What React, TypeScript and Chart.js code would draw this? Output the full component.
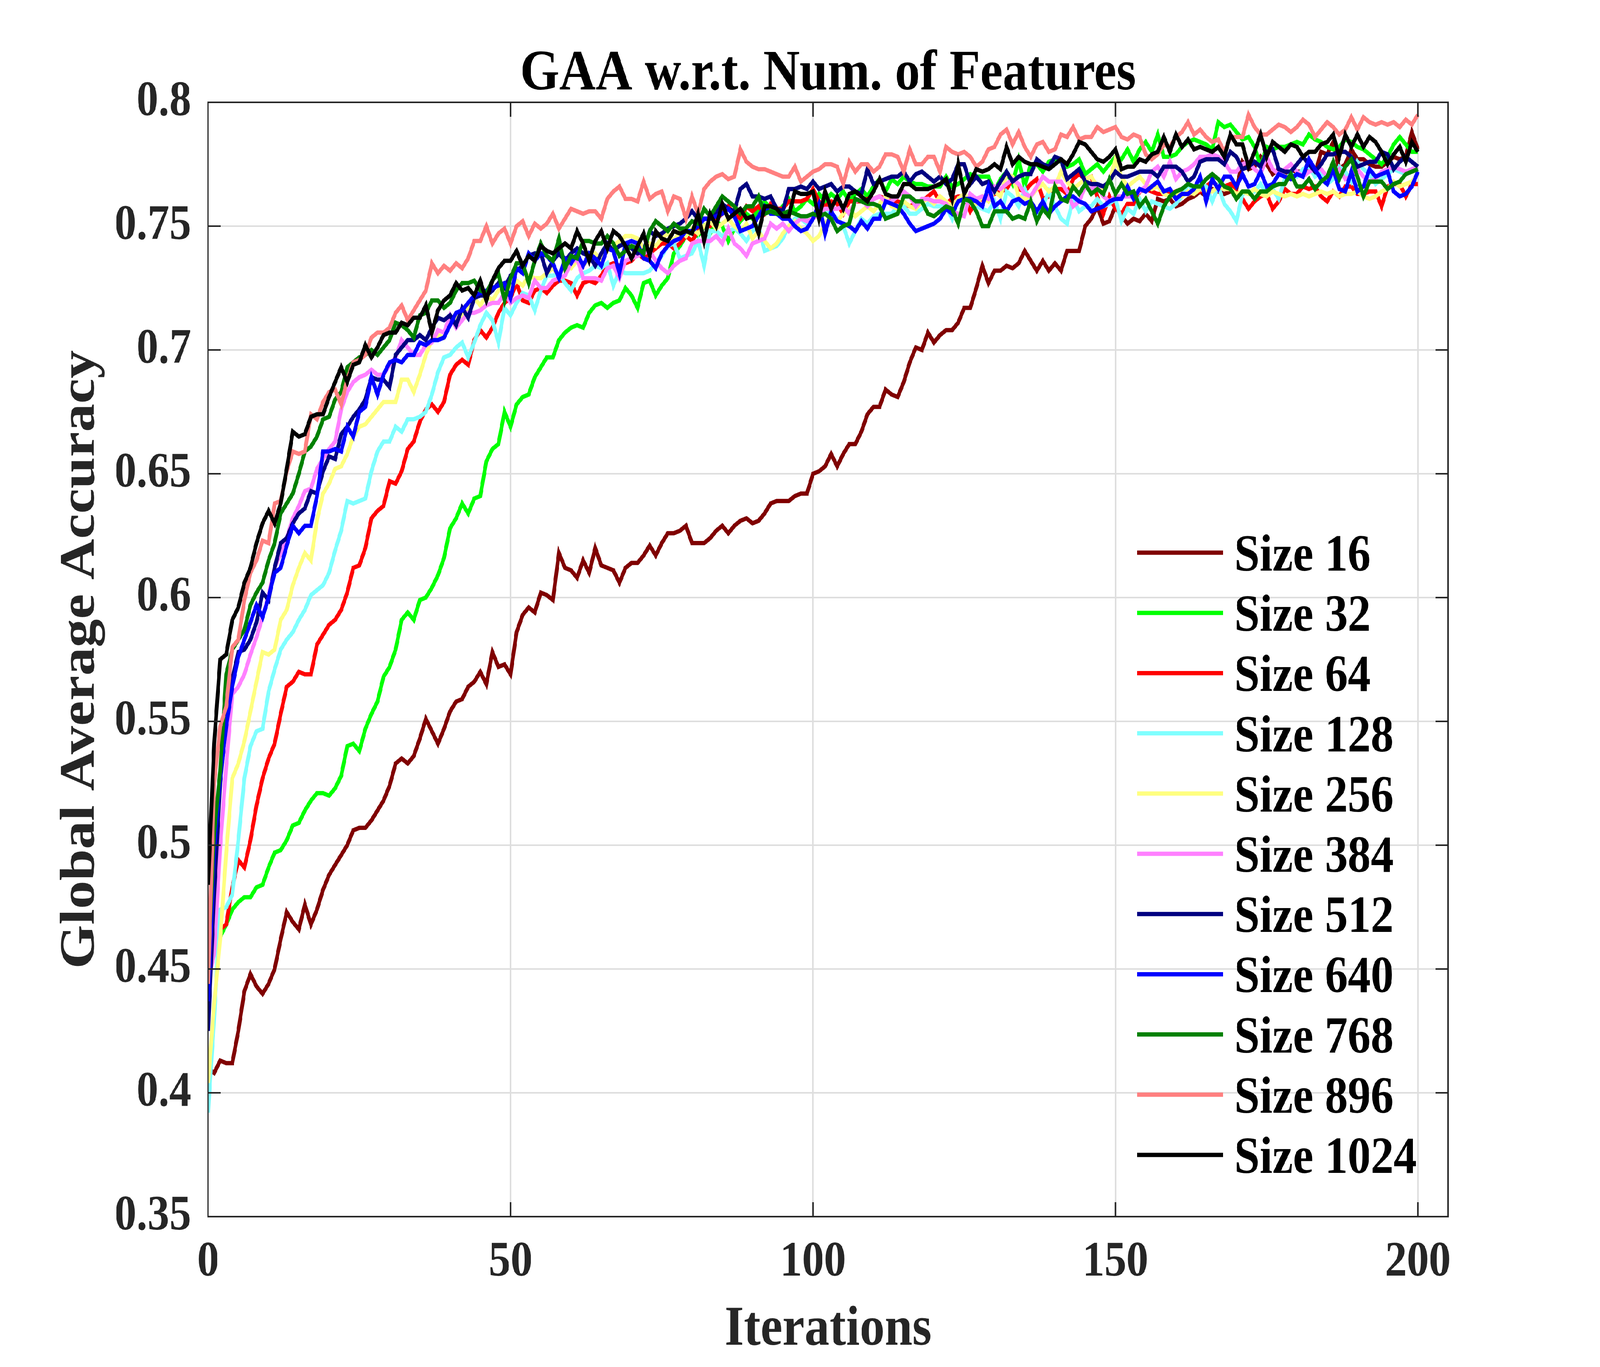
import { useEffect, useRef } from 'react';
import Chart from 'chart.js/auto';

const FONT = '"Liberation Serif", "Times New Roman", serif';
const INK = '#262626';

// reference frame the layout numbers below are measured in
const REF_W = 4667;
const REF_H = 3500;

// iterations 0..200 (one point per iteration)
const iterations = Array.from({ length: 201 }, (_, i) => i);

const seriesNames = ['Size 16', 'Size 32', 'Size 64', 'Size 128', 'Size 256', 'Size 384', 'Size 512', 'Size 640', 'Size 768', 'Size 896', 'Size 1024'];
const seriesColors = ['#800000', '#00ff00', '#ff0000', '#80ffff', '#ffff80', '#ff80ff', '#000080', '#0000ff', '#008000', '#ff8080', '#000000'];

const xTicks = [0, 50, 100, 150, 200];
const yTicks = [0.35, 0.4, 0.45, 0.5, 0.55, 0.6, 0.65, 0.7, 0.75, 0.8];

const size16 = [
    0.410, 0.408, 0.413, 0.412, 0.412, 0.425, 0.441, 0.448, 0.443, 0.440,
    0.444, 0.450, 0.462, 0.473, 0.469, 0.466, 0.476, 0.468, 0.474, 0.482,
    0.488, 0.492, 0.496, 0.500, 0.506, 0.507, 0.507, 0.510, 0.514, 0.518,
    0.524, 0.533, 0.535, 0.533, 0.536, 0.543, 0.551, 0.546, 0.541, 0.547,
    0.554, 0.558, 0.559, 0.564, 0.566, 0.570, 0.565, 0.578, 0.572, 0.573,
    0.569, 0.586, 0.593, 0.596, 0.594, 0.602, 0.601, 0.599, 0.618, 0.612,
    0.611, 0.608, 0.615, 0.610, 0.620, 0.613, 0.612, 0.611, 0.606, 0.612,
    0.614, 0.614, 0.617, 0.621, 0.617, 0.622, 0.626, 0.626, 0.627, 0.629,
    0.622, 0.622, 0.622, 0.624, 0.627, 0.629, 0.626, 0.629, 0.631, 0.632,
    0.630, 0.631, 0.634, 0.638, 0.639, 0.639, 0.639, 0.641, 0.642, 0.642,
    0.650, 0.651, 0.653, 0.658, 0.653, 0.658, 0.662, 0.662, 0.667, 0.674,
    0.677, 0.677, 0.684, 0.682, 0.681, 0.687, 0.695, 0.701, 0.700, 0.707,
    0.703, 0.706, 0.708, 0.708, 0.711, 0.717, 0.717, 0.725, 0.734, 0.727,
    0.732, 0.732, 0.734, 0.733, 0.735, 0.740, 0.736, 0.732, 0.736, 0.732,
    0.735, 0.732, 0.740, 0.740, 0.740, 0.750, 0.753, 0.758, 0.751, 0.752,
    0.758, 0.754, 0.751, 0.753, 0.752, 0.755, 0.752, 0.761, 0.760, 0.761,
    0.758, 0.759, 0.761, 0.762, 0.764, 0.762, 0.765, 0.764, 0.763, 0.764,
    0.765, 0.776, 0.773, 0.774, 0.778, 0.775, 0.771, 0.773, 0.772, 0.771,
    0.772, 0.772, 0.773, 0.771, 0.780, 0.779, 0.784, 0.773, 0.775, 0.781,
    0.777, 0.777, 0.775, 0.774, 0.774, 0.776, 0.778, 0.777, 0.778, 0.788,
    0.781,
];

const size32 = [
    0.451, 0.461, 0.463, 0.468, 0.474, 0.477, 0.479, 0.479, 0.483, 0.484,
    0.491, 0.497, 0.498, 0.502, 0.508, 0.509, 0.514, 0.518, 0.521, 0.521,
    0.520, 0.523, 0.528, 0.540, 0.541, 0.538, 0.547, 0.553, 0.558, 0.568,
    0.572, 0.579, 0.591, 0.594, 0.591, 0.599, 0.600, 0.604, 0.609, 0.616,
    0.628, 0.632, 0.638, 0.634, 0.640, 0.641, 0.655, 0.660, 0.662, 0.675,
    0.669, 0.678, 0.681, 0.682, 0.689, 0.693, 0.697, 0.697, 0.704, 0.707,
    0.709, 0.710, 0.709, 0.715, 0.718, 0.719, 0.717, 0.719, 0.720, 0.725,
    0.722, 0.717, 0.727, 0.728, 0.722, 0.726, 0.729, 0.739, 0.742, 0.746,
    0.748, 0.746, 0.750, 0.747, 0.752, 0.750, 0.744, 0.749, 0.752, 0.755,
    0.753, 0.757, 0.760, 0.757, 0.755, 0.758, 0.761, 0.756, 0.758, 0.761,
    0.759, 0.763, 0.760, 0.763, 0.761, 0.764, 0.760, 0.763, 0.765, 0.762,
    0.766, 0.769, 0.764, 0.769, 0.767, 0.770, 0.768, 0.767, 0.767, 0.766,
    0.766, 0.766, 0.770, 0.766, 0.767, 0.769, 0.771, 0.770, 0.770, 0.770,
    0.764, 0.769, 0.772, 0.767, 0.777, 0.766, 0.775, 0.775, 0.772, 0.776,
    0.777, 0.776, 0.774, 0.775, 0.777, 0.771, 0.773, 0.775, 0.772, 0.775,
    0.778, 0.777, 0.781, 0.776, 0.781, 0.784, 0.780, 0.787, 0.778, 0.778,
    0.779, 0.782, 0.784, 0.785, 0.784, 0.783, 0.781, 0.792, 0.790, 0.791,
    0.788, 0.785, 0.786, 0.782, 0.774, 0.782, 0.781, 0.782, 0.782, 0.783,
    0.784, 0.783, 0.787, 0.785, 0.784, 0.782, 0.781, 0.782, 0.785, 0.784,
    0.782, 0.781, 0.779, 0.777, 0.775, 0.778, 0.783, 0.786, 0.783, 0.780,
    0.780,
];

const size64 = [
    0.447, 0.462, 0.466, 0.468, 0.483, 0.494, 0.491, 0.502, 0.516, 0.527,
    0.535, 0.541, 0.553, 0.564, 0.566, 0.570, 0.569, 0.569, 0.581, 0.585,
    0.589, 0.591, 0.595, 0.602, 0.612, 0.613, 0.620, 0.632, 0.635, 0.637,
    0.647, 0.646, 0.651, 0.660, 0.663, 0.671, 0.676, 0.678, 0.675, 0.679,
    0.690, 0.694, 0.696, 0.694, 0.704, 0.708, 0.705, 0.709, 0.715, 0.719,
    0.721, 0.727, 0.720, 0.719, 0.724, 0.725, 0.723, 0.726, 0.728, 0.728,
    0.727, 0.722, 0.727, 0.728, 0.727, 0.730, 0.734, 0.735, 0.734, 0.735,
    0.736, 0.739, 0.737, 0.739, 0.741, 0.743, 0.743, 0.741, 0.743, 0.746,
    0.744, 0.748, 0.750, 0.750, 0.753, 0.755, 0.758, 0.755, 0.753, 0.758,
    0.756, 0.758, 0.755, 0.759, 0.757, 0.757, 0.760, 0.760, 0.760, 0.761,
    0.765, 0.760, 0.758, 0.760, 0.759, 0.755, 0.760, 0.760, 0.760, 0.761,
    0.761, 0.762, 0.761, 0.760, 0.760, 0.759, 0.758, 0.759, 0.760, 0.762,
    0.764, 0.760, 0.759, 0.761, 0.762, 0.762, 0.756, 0.760, 0.761, 0.762,
    0.763, 0.764, 0.765, 0.769, 0.765, 0.764, 0.767, 0.769, 0.761, 0.762,
    0.765, 0.765, 0.763, 0.769, 0.771, 0.769, 0.770, 0.762, 0.755, 0.762,
    0.757, 0.755, 0.759, 0.759, 0.764, 0.765, 0.764, 0.763, 0.763, 0.763,
    0.764, 0.765, 0.763, 0.764, 0.764, 0.766, 0.768, 0.766, 0.766, 0.767,
    0.764, 0.761, 0.757, 0.760, 0.762, 0.763, 0.757, 0.760, 0.765, 0.763,
    0.763, 0.766, 0.765, 0.766, 0.762, 0.760, 0.764, 0.762, 0.766, 0.766,
    0.763, 0.763, 0.764, 0.764, 0.758, 0.766, 0.767, 0.767, 0.762, 0.767,
    0.767,
];

const size128 = [
    0.392, 0.430, 0.474, 0.475, 0.480, 0.502, 0.527, 0.540, 0.546, 0.547,
    0.562, 0.571, 0.579, 0.583, 0.586, 0.591, 0.595, 0.601, 0.603, 0.605,
    0.610, 0.619, 0.627, 0.639, 0.638, 0.639, 0.640, 0.651, 0.659, 0.663,
    0.663, 0.669, 0.667, 0.672, 0.672, 0.673, 0.675, 0.682, 0.691, 0.697,
    0.698, 0.701, 0.703, 0.697, 0.703, 0.710, 0.715, 0.712, 0.703, 0.717,
    0.714, 0.719, 0.723, 0.722, 0.716, 0.724, 0.730, 0.730, 0.731, 0.727,
    0.724, 0.729, 0.731, 0.732, 0.734, 0.733, 0.735, 0.726, 0.732, 0.731,
    0.731, 0.731, 0.731, 0.732, 0.735, 0.738, 0.742, 0.743, 0.737, 0.738,
    0.739, 0.744, 0.734, 0.748, 0.748, 0.746, 0.748, 0.749, 0.747, 0.744,
    0.748, 0.750, 0.740, 0.741, 0.742, 0.745, 0.750, 0.753, 0.753, 0.751,
    0.753, 0.757, 0.756, 0.755, 0.753, 0.750, 0.743, 0.748, 0.753, 0.751,
    0.754, 0.755, 0.755, 0.755, 0.758, 0.758, 0.755, 0.755, 0.757, 0.759,
    0.758, 0.758, 0.758, 0.753, 0.761, 0.760, 0.761, 0.758, 0.757, 0.756,
    0.760, 0.753, 0.764, 0.762, 0.758, 0.765, 0.760, 0.754, 0.758, 0.764,
    0.758, 0.753, 0.751, 0.761, 0.756, 0.758, 0.758, 0.761, 0.758, 0.759,
    0.761, 0.752, 0.757, 0.755, 0.761, 0.756, 0.760, 0.759, 0.758, 0.757,
    0.759, 0.762, 0.767, 0.764, 0.767, 0.766, 0.760, 0.766, 0.759, 0.756,
    0.752, 0.763, 0.764, 0.764, 0.767, 0.763, 0.765, 0.761, 0.769, 0.771,
    0.770, 0.773, 0.774, 0.770, 0.772, 0.767, 0.769, 0.774, 0.772, 0.768,
    0.776, 0.773, 0.771, 0.767, 0.769, 0.771, 0.773, 0.772, 0.771, 0.773,
    0.774,
];

const size256 = [
    0.404, 0.436, 0.462, 0.497, 0.527, 0.533, 0.542, 0.554, 0.566, 0.578,
    0.577, 0.579, 0.591, 0.595, 0.605, 0.612, 0.618, 0.615, 0.631, 0.642,
    0.646, 0.652, 0.653, 0.658, 0.665, 0.669, 0.670, 0.673, 0.676, 0.679,
    0.679, 0.679, 0.688, 0.688, 0.683, 0.690, 0.698, 0.704, 0.706, 0.705,
    0.711, 0.713, 0.714, 0.717, 0.721, 0.718, 0.722, 0.720, 0.724, 0.727,
    0.725, 0.728, 0.726, 0.730, 0.729, 0.729, 0.731, 0.733, 0.730, 0.734,
    0.733, 0.736, 0.734, 0.737, 0.739, 0.736, 0.740, 0.742, 0.744, 0.746,
    0.746, 0.745, 0.741, 0.743, 0.742, 0.745, 0.747, 0.744, 0.748, 0.746,
    0.749, 0.747, 0.750, 0.752, 0.749, 0.751, 0.753, 0.750, 0.748, 0.751,
    0.745, 0.748, 0.744, 0.741, 0.743, 0.747, 0.750, 0.752, 0.749, 0.747,
    0.744, 0.746, 0.751, 0.754, 0.752, 0.755, 0.757, 0.754, 0.756, 0.758,
    0.756, 0.759, 0.762, 0.758, 0.757, 0.760, 0.758, 0.757, 0.760, 0.761,
    0.759, 0.762, 0.760, 0.758, 0.761, 0.763, 0.760, 0.759, 0.762, 0.760,
    0.764, 0.762, 0.771, 0.770, 0.762, 0.761, 0.762, 0.765, 0.767, 0.764,
    0.766, 0.772, 0.768, 0.765, 0.767, 0.769, 0.770, 0.766, 0.764, 0.768,
    0.777, 0.770, 0.766, 0.768, 0.770, 0.767, 0.765, 0.766, 0.763, 0.762,
    0.763, 0.762, 0.764, 0.763, 0.765, 0.764, 0.764, 0.766, 0.765, 0.765,
    0.763, 0.764, 0.763, 0.765, 0.763, 0.762, 0.764, 0.763, 0.762, 0.763,
    0.762, 0.763, 0.762, 0.763, 0.764, 0.763, 0.764, 0.762, 0.763, 0.763,
    0.764, 0.762, 0.761, 0.762, 0.764, 0.765, 0.768, 0.766, 0.767, 0.768,
    0.771,
];

const size384 = [
    0.445, 0.456, 0.499, 0.532, 0.561, 0.564, 0.569, 0.577, 0.584, 0.592,
    0.601, 0.612, 0.618, 0.624, 0.632, 0.637, 0.643, 0.644, 0.652, 0.656,
    0.660, 0.663, 0.676, 0.683, 0.687, 0.689, 0.690, 0.692, 0.690, 0.690,
    0.694, 0.697, 0.704, 0.701, 0.698, 0.698, 0.702, 0.703, 0.708, 0.707,
    0.714, 0.709, 0.712, 0.715, 0.715, 0.716, 0.718, 0.719, 0.719, 0.723,
    0.719, 0.721, 0.722, 0.721, 0.728, 0.725, 0.725, 0.728, 0.729, 0.730,
    0.735, 0.737, 0.729, 0.729, 0.729, 0.728, 0.733, 0.734, 0.729, 0.736,
    0.737, 0.738, 0.739, 0.740, 0.736, 0.733, 0.731, 0.734, 0.736, 0.737,
    0.743, 0.744, 0.744, 0.744, 0.746, 0.743, 0.749, 0.743, 0.741, 0.738,
    0.743, 0.744, 0.745, 0.751, 0.749, 0.751, 0.748, 0.751, 0.753, 0.752,
    0.753, 0.755, 0.757, 0.757, 0.757, 0.758, 0.755, 0.760, 0.761, 0.758,
    0.761, 0.762, 0.760, 0.760, 0.762, 0.764, 0.762, 0.758, 0.761, 0.761,
    0.760, 0.760, 0.759, 0.756, 0.755, 0.754, 0.763, 0.761, 0.762, 0.761,
    0.766, 0.765, 0.767, 0.769, 0.767, 0.763, 0.762, 0.766, 0.770, 0.768,
    0.768, 0.768, 0.764, 0.758, 0.760, 0.766, 0.765, 0.766, 0.762, 0.760,
    0.762, 0.762, 0.762, 0.762, 0.764, 0.766, 0.772, 0.774, 0.770, 0.776,
    0.769, 0.772, 0.773, 0.775, 0.778, 0.778, 0.779, 0.778, 0.776, 0.772,
    0.772, 0.775, 0.776, 0.773, 0.771, 0.778, 0.773, 0.771, 0.773, 0.775,
    0.772, 0.770, 0.772, 0.773, 0.773, 0.770, 0.771, 0.773, 0.769, 0.770,
    0.773, 0.770, 0.768, 0.769, 0.772, 0.773, 0.774, 0.773, 0.772, 0.773,
    0.774,
];

const size512 = [
    0.425, 0.480, 0.525, 0.550, 0.567, 0.578, 0.579, 0.583, 0.590, 0.602,
    0.599, 0.612, 0.622, 0.624, 0.630, 0.634, 0.636, 0.643, 0.642, 0.651,
    0.657, 0.656, 0.666, 0.669, 0.673, 0.676, 0.680, 0.689, 0.688, 0.688,
    0.685, 0.698, 0.701, 0.704, 0.704, 0.706, 0.704, 0.709, 0.713, 0.712,
    0.714, 0.710, 0.717, 0.713, 0.721, 0.722, 0.722, 0.724, 0.727, 0.725,
    0.730, 0.732, 0.734, 0.738, 0.739, 0.739, 0.731, 0.736, 0.739, 0.736,
    0.739, 0.741, 0.739, 0.738, 0.734, 0.739, 0.743, 0.740, 0.742, 0.743,
    0.741, 0.739, 0.740, 0.748, 0.746, 0.747, 0.749, 0.750, 0.751, 0.753,
    0.756, 0.753, 0.753, 0.753, 0.755, 0.759, 0.757, 0.756, 0.765, 0.767,
    0.762, 0.762, 0.761, 0.762, 0.757, 0.756, 0.765, 0.765, 0.766, 0.765,
    0.768, 0.765, 0.766, 0.767, 0.764, 0.766, 0.766, 0.764, 0.763, 0.773,
    0.767, 0.768, 0.769, 0.770, 0.770, 0.772, 0.768, 0.771, 0.772, 0.770,
    0.768, 0.770, 0.767, 0.769, 0.775, 0.775, 0.767, 0.770, 0.767, 0.768,
    0.764, 0.768, 0.772, 0.768, 0.770, 0.771, 0.771, 0.777, 0.775, 0.774,
    0.778, 0.777, 0.769, 0.771, 0.773, 0.768, 0.767, 0.767, 0.766, 0.768,
    0.772, 0.770, 0.770, 0.771, 0.772, 0.772, 0.772, 0.770, 0.774, 0.774,
    0.774, 0.772, 0.768, 0.770, 0.776, 0.777, 0.777, 0.777, 0.775, 0.780,
    0.778, 0.773, 0.774, 0.776, 0.774, 0.780, 0.781, 0.773, 0.772, 0.772,
    0.775, 0.778, 0.775, 0.772, 0.775, 0.779, 0.779, 0.780, 0.780, 0.778,
    0.774, 0.775, 0.776, 0.776, 0.780, 0.779, 0.773, 0.776, 0.778, 0.776,
    0.774,
];

const size640 = [
    0.437, 0.499, 0.527, 0.548, 0.564, 0.576, 0.583, 0.590, 0.597, 0.592,
    0.600, 0.610, 0.612, 0.621, 0.629, 0.626, 0.629, 0.629, 0.641, 0.659,
    0.659, 0.660, 0.659, 0.669, 0.665, 0.675, 0.677, 0.689, 0.682, 0.690,
    0.695, 0.696, 0.695, 0.698, 0.698, 0.703, 0.702, 0.704, 0.704, 0.705,
    0.710, 0.715, 0.716, 0.719, 0.722, 0.723, 0.724, 0.725, 0.726, 0.727,
    0.721, 0.733, 0.731, 0.739, 0.736, 0.739, 0.738, 0.735, 0.729, 0.737,
    0.735, 0.739, 0.734, 0.739, 0.737, 0.734, 0.741, 0.740, 0.731, 0.743,
    0.744, 0.743, 0.737, 0.736, 0.733, 0.739, 0.742, 0.744, 0.745, 0.748,
    0.748, 0.750, 0.753, 0.753, 0.754, 0.755, 0.757, 0.754, 0.748, 0.749,
    0.750, 0.754, 0.758, 0.755, 0.755, 0.753, 0.753, 0.750, 0.748, 0.749,
    0.753, 0.759, 0.747, 0.756, 0.752, 0.751, 0.750, 0.748, 0.752, 0.749,
    0.753, 0.753, 0.760, 0.759, 0.758, 0.755, 0.751, 0.748, 0.749, 0.750,
    0.751, 0.753, 0.757, 0.755, 0.760, 0.761, 0.761, 0.760, 0.758, 0.766,
    0.758, 0.760, 0.756, 0.760, 0.761, 0.759, 0.760, 0.756, 0.760, 0.755,
    0.758, 0.760, 0.762, 0.762, 0.760, 0.759, 0.756, 0.757, 0.758, 0.760,
    0.761, 0.761, 0.766, 0.761, 0.765, 0.764, 0.766, 0.768, 0.764, 0.765,
    0.761, 0.763, 0.763, 0.765, 0.770, 0.760, 0.769, 0.765, 0.770, 0.770,
    0.766, 0.771, 0.766, 0.767, 0.772, 0.766, 0.767, 0.771, 0.770, 0.769,
    0.771, 0.770, 0.777, 0.773, 0.769, 0.767, 0.773, 0.765, 0.764, 0.772,
    0.764, 0.766, 0.773, 0.770, 0.771, 0.772, 0.764, 0.762, 0.763, 0.766,
    0.772,
];

const size768 = [
    0.450, 0.505, 0.530, 0.569, 0.579, 0.583, 0.587, 0.597, 0.602, 0.606,
    0.615, 0.622, 0.634, 0.638, 0.642, 0.650, 0.659, 0.661, 0.665, 0.672,
    0.673, 0.680, 0.683, 0.693, 0.695, 0.697, 0.698, 0.700, 0.698, 0.701,
    0.704, 0.711, 0.710, 0.708, 0.705, 0.714, 0.715, 0.720, 0.720, 0.717,
    0.719, 0.724, 0.727, 0.727, 0.728, 0.724, 0.723, 0.728, 0.731, 0.720,
    0.729, 0.735, 0.735, 0.727, 0.736, 0.743, 0.738, 0.736, 0.745, 0.733,
    0.738, 0.737, 0.744, 0.744, 0.743, 0.743, 0.746, 0.743, 0.738, 0.740,
    0.742, 0.741, 0.739, 0.748, 0.752, 0.750, 0.748, 0.751, 0.749, 0.749,
    0.752, 0.751, 0.757, 0.754, 0.758, 0.762, 0.760, 0.758, 0.755, 0.758,
    0.758, 0.762, 0.755, 0.756, 0.755, 0.755, 0.756, 0.755, 0.754, 0.754,
    0.755, 0.754, 0.755, 0.753, 0.748, 0.750, 0.751, 0.761, 0.760, 0.759,
    0.759, 0.758, 0.753, 0.754, 0.755, 0.762, 0.762, 0.760, 0.760, 0.755,
    0.754, 0.756, 0.758, 0.757, 0.751, 0.761, 0.760, 0.756, 0.750, 0.750,
    0.756, 0.756, 0.756, 0.753, 0.754, 0.753, 0.760, 0.752, 0.757, 0.754,
    0.766, 0.761, 0.760, 0.766, 0.763, 0.767, 0.763, 0.765, 0.763, 0.769,
    0.763, 0.767, 0.763, 0.764, 0.758, 0.761, 0.756, 0.751, 0.758, 0.762,
    0.764, 0.765, 0.767, 0.766, 0.766, 0.769, 0.771, 0.769, 0.766, 0.765,
    0.761, 0.764, 0.764, 0.761, 0.764, 0.764, 0.766, 0.767, 0.767, 0.771,
    0.766, 0.766, 0.769, 0.765, 0.768, 0.770, 0.776, 0.769, 0.774, 0.777,
    0.770, 0.762, 0.768, 0.768, 0.768, 0.765, 0.767, 0.768, 0.771, 0.772,
    0.773,
];

const size896 = [
    0.444, 0.525, 0.548, 0.556, 0.580, 0.583, 0.599, 0.610, 0.615, 0.623,
    0.622, 0.638, 0.639, 0.651, 0.659, 0.658, 0.659, 0.674, 0.672, 0.679,
    0.683, 0.684, 0.678, 0.688, 0.695, 0.696, 0.698, 0.705, 0.707, 0.707,
    0.709, 0.715, 0.718, 0.712, 0.716, 0.720, 0.724, 0.735, 0.731, 0.734,
    0.732, 0.735, 0.733, 0.737, 0.744, 0.744, 0.750, 0.743, 0.747, 0.749,
    0.743, 0.750, 0.752, 0.746, 0.751, 0.749, 0.751, 0.755, 0.749, 0.753,
    0.757, 0.756, 0.755, 0.756, 0.756, 0.753, 0.761, 0.764, 0.766, 0.761,
    0.761, 0.760, 0.768, 0.761, 0.763, 0.764, 0.756, 0.762, 0.761, 0.753,
    0.762, 0.755, 0.765, 0.768, 0.770, 0.771, 0.769, 0.770, 0.781, 0.776,
    0.774, 0.773, 0.773, 0.772, 0.771, 0.770, 0.770, 0.774, 0.768, 0.770,
    0.772, 0.773, 0.775, 0.775, 0.774, 0.767, 0.776, 0.772, 0.775, 0.775,
    0.772, 0.774, 0.779, 0.779, 0.778, 0.772, 0.781, 0.775, 0.775, 0.778,
    0.778, 0.772, 0.782, 0.780, 0.779, 0.780, 0.778, 0.774, 0.776, 0.781,
    0.782, 0.787, 0.789, 0.783, 0.788, 0.782, 0.778, 0.783, 0.784, 0.780,
    0.781, 0.787, 0.786, 0.790, 0.785, 0.786, 0.786, 0.790, 0.788, 0.789,
    0.790, 0.786, 0.785, 0.787, 0.786, 0.779, 0.777, 0.779, 0.783, 0.782,
    0.786, 0.788, 0.792, 0.787, 0.789, 0.786, 0.784, 0.785, 0.780, 0.786,
    0.786, 0.786, 0.795, 0.790, 0.787, 0.787, 0.789, 0.791, 0.790, 0.788,
    0.790, 0.793, 0.791, 0.786, 0.789, 0.792, 0.790, 0.787, 0.789, 0.794,
    0.789, 0.794, 0.792, 0.791, 0.792, 0.791, 0.792, 0.790, 0.793, 0.791,
    0.795,
];

const size1024 = [
    0.484, 0.541, 0.575, 0.577, 0.591, 0.596, 0.606, 0.612, 0.622, 0.630,
    0.635, 0.630, 0.638, 0.652, 0.667, 0.665, 0.666, 0.673, 0.674, 0.674,
    0.681, 0.687, 0.693, 0.687, 0.694, 0.695, 0.702, 0.697, 0.701, 0.706,
    0.707, 0.707, 0.711, 0.710, 0.713, 0.713, 0.718, 0.707, 0.716, 0.720,
    0.722, 0.727, 0.724, 0.725, 0.722, 0.728, 0.720, 0.728, 0.733, 0.736,
    0.736, 0.740, 0.734, 0.738, 0.736, 0.742, 0.740, 0.739, 0.741, 0.743,
    0.741, 0.748, 0.743, 0.736, 0.744, 0.748, 0.741, 0.748, 0.746, 0.742,
    0.737, 0.742, 0.747, 0.738, 0.748, 0.745, 0.744, 0.748, 0.747, 0.748,
    0.747, 0.755, 0.744, 0.755, 0.750, 0.759, 0.753, 0.755, 0.757, 0.753,
    0.754, 0.747, 0.758, 0.758, 0.757, 0.754, 0.754, 0.764, 0.763, 0.763,
    0.764, 0.753, 0.764, 0.757, 0.762, 0.757, 0.763, 0.764, 0.762, 0.760,
    0.764, 0.769, 0.763, 0.762, 0.762, 0.767, 0.767, 0.765, 0.765, 0.765,
    0.766, 0.767, 0.769, 0.761, 0.775, 0.763, 0.768, 0.773, 0.772, 0.773,
    0.775, 0.773, 0.782, 0.775, 0.778, 0.776, 0.775, 0.775, 0.774, 0.773,
    0.775, 0.777, 0.775, 0.779, 0.784, 0.783, 0.780, 0.777, 0.776, 0.778,
    0.781, 0.773, 0.774, 0.774, 0.777, 0.776, 0.779, 0.780, 0.786, 0.780,
    0.787, 0.782, 0.785, 0.781, 0.782, 0.781, 0.780, 0.782, 0.778, 0.787,
    0.783, 0.783, 0.774, 0.780, 0.787, 0.778, 0.784, 0.782, 0.780, 0.783,
    0.782, 0.778, 0.780, 0.780, 0.783, 0.784, 0.787, 0.778, 0.787, 0.782,
    0.787, 0.782, 0.786, 0.784, 0.780, 0.775, 0.779, 0.782, 0.776, 0.784,
    0.780,
];

const seriesValues = [size16, size32, size64, size128, size256, size384, size512, size640, size768, size896, size1024];

// MATLAB-like box: frame on all four sides with inward ticks
const framePlugin = {
    id: 'frame',
    afterDatasetsDraw(chart: any) {
        const { ctx, chartArea: a, scales } = chart;
        const tick = 37;
        ctx.save();
        ctx.strokeStyle = INK;
        ctx.lineWidth = 4;
        ctx.strokeRect(a.left, a.top, a.right - a.left, a.bottom - a.top);
        ctx.beginPath();
        xTicks.forEach((v) => {
            const px = scales.x.getPixelForValue(v);
            ctx.moveTo(px, a.bottom); ctx.lineTo(px, a.bottom - tick);
            ctx.moveTo(px, a.top); ctx.lineTo(px, a.top + tick);
        });
        yTicks.forEach((v) => {
            const py = scales.y.getPixelForValue(v);
            ctx.moveTo(a.left, py); ctx.lineTo(a.left + tick, py);
            ctx.moveTo(a.right, py); ctx.lineTo(a.right - tick, py);
        });
        ctx.stroke();
        ctx.restore();
    },
};

const textPlugin = {
    id: 'texts',
    afterDraw(chart: any) {
        const { ctx, chartArea: a } = chart;
        const cx = (a.left + a.right) / 2;
        const cy = (a.top + a.bottom) / 2;
        ctx.save();
        ctx.textBaseline = 'alphabetic';
        ctx.textAlign = 'center';

        ctx.fillStyle = '#000';
        ctx.font = `bold 147px ${FONT}`;
        ctx.fillText('GAA w.r.t. Num. of Features', cx, 229);

        ctx.fillStyle = INK;
        ctx.font = `bold 145px ${FONT}`;
        ctx.fillText('Iterations', cx, 3443);

        ctx.save();
        ctx.translate(274, cy);
        ctx.rotate(-Math.PI / 2);
        ctx.fillText('Global Average Accuracy', 0, 0);
        ctx.restore();

        // legend, no box
        ctx.textAlign = 'left';
        ctx.font = `bold 134px ${FONT}`;
        chart.data.datasets.forEach((ds: any, i: number) => {
            const y = 1415 + i * 154.2;
            ctx.strokeStyle = ds.borderColor;
            ctx.lineWidth = 11;
            ctx.beginPath();
            ctx.moveTo(3317, y);
            ctx.lineTo(3568, y);
            ctx.stroke();
            ctx.fillStyle = '#000';
            ctx.fillText(ds.label, 3600, y + 46);
        });
        ctx.restore();
    },
};

export default function App() {
    const canvasRef = useRef<HTMLCanvasElement>(null);
    const chartRef = useRef<Chart | null>(null);

    // the browser caps the window width, so draw in the 4667x3500 frame and fit it to the window
    const sx = window.innerWidth / REF_W;
    const sy = window.innerHeight / REF_H;

    useEffect(() => {
        if (!canvasRef.current) return;
        const ctx = canvasRef.current.getContext('2d');
        if (!ctx) return;

        if (chartRef.current) {
            chartRef.current.destroy();
        }

        const datasets = seriesNames.map((name, i) => ({
            label: name,
            data: seriesValues[i].map((v, j) => ({ x: iterations[j], y: v })),
            borderColor: seriesColors[i],
            backgroundColor: seriesColors[i],
            borderWidth: 11,
            pointRadius: 0,
            tension: 0,
            fill: false,
            order: seriesNames.length - i, // later series drawn on top
        }));

        const tickFont = { family: FONT, size: 128, weight: 'bold' as const };

        chartRef.current = new Chart(ctx, {
            type: 'line',
            data: { datasets },
            options: {
                animation: false,
                responsive: false,
                devicePixelRatio: 1,
                layout: { padding: { left: 0, right: 443, top: 262, bottom: 0 } },
                plugins: {
                    legend: { display: false },
                    tooltip: { enabled: false },
                    title: { display: false },
                },
                scales: {
                    x: {
                        type: 'linear',
                        min: 0,
                        max: 205,
                        afterFit: (s: any) => { s.height = 385; },
                        afterBuildTicks: (s: any) => { s.ticks = xTicks.map((v) => ({ value: v })); },
                        ticks: { font: tickFont, color: INK, padding: 41, maxRotation: 0, callback: (v: any) => String(v) },
                        grid: { color: '#dedede', lineWidth: 4, drawTicks: false },
                        border: { display: false },
                    },
                    y: {
                        type: 'linear',
                        min: 0.35,
                        max: 0.8,
                        afterFit: (s: any) => { s.width = 607; },
                        afterBuildTicks: (s: any) => { s.ticks = yTicks.map((v) => ({ value: v })); },
                        ticks: { font: tickFont, color: INK, padding: 49, callback: (v: any) => String(Number(Number(v).toFixed(2))) },
                        grid: { color: '#dedede', lineWidth: 4, drawTicks: false },
                        border: { display: false },
                    },
                },
            },
            plugins: [framePlugin, textPlugin],
        });

        return () => {
            if (chartRef.current) {
                chartRef.current.destroy();
                chartRef.current = null;
            }
        };
    }, []);

    return (
        <div style={{ position: 'absolute', left: 0, top: 0, width: REF_W, height: REF_H, background: '#fff', transformOrigin: '0 0', transform: `scale(${sx}, ${sy})` }}>
            <canvas ref={canvasRef} width={REF_W} height={REF_H} style={{ display: 'block', width: REF_W, height: REF_H }} />
        </div>
    );
}
